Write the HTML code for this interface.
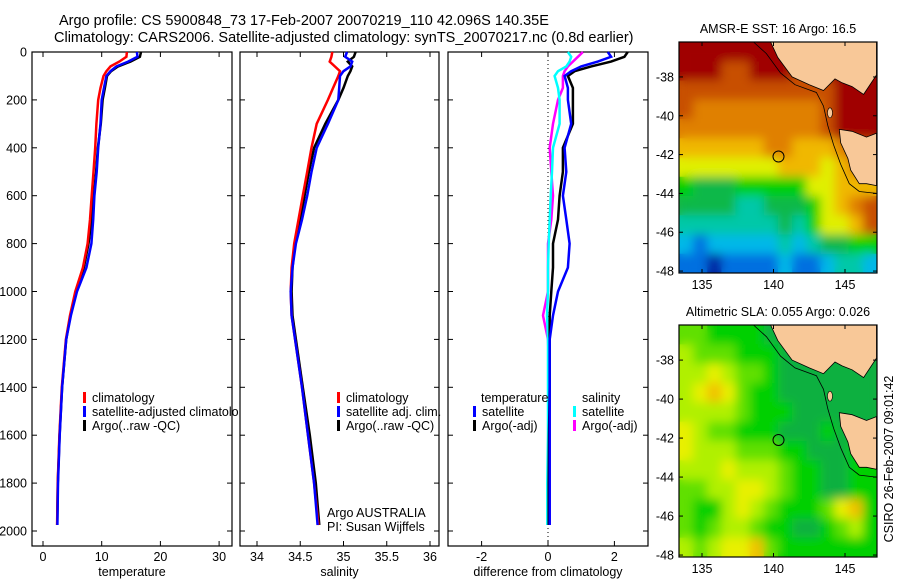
<!DOCTYPE html>
<html><head><meta charset="utf-8"><title>Argo profile</title>
<style>
html,body{margin:0;padding:0;background:#fff;}
svg{display:block;font-family:"Liberation Sans",sans-serif;}
</style></head>
<body>
<svg id="fig" xmlns="http://www.w3.org/2000/svg" width="900" height="580" viewBox="0 0 900 580">
<defs>
<filter id="blur" x="-5%" y="-5%" width="110%" height="110%"><feGaussianBlur stdDeviation="5"/></filter>
<clipPath id="clip-sst"><rect x="679" y="42" width="198" height="231"/></clipPath>
<clipPath id="clip-sla"><rect x="679" y="325" width="198" height="232"/></clipPath>
<clipPath id="clip-leg"><rect x="0" y="380" width="239" height="60"/></clipPath>
</defs>
<rect x="0" y="0" width="900" height="580" fill="#fff"/>
<text x="59" y="25" font-size="14.5" fill="#000">Argo profile: CS 5900848_73 17-Feb-2007 20070219_110 42.096S 140.35E</text>
<text x="54" y="42" font-size="14.5" fill="#000">Climatology: CARS2006. Satellite-adjusted climatology: synTS_20070217.nc (0.8d earlier)</text>
<g id="plots"></g>
</svg>
<script>
// ---------- data ----------
const depths = [0,20,40,60,80,100,150,200,300,400,500,600,700,800,900,1000,1100,1200,1400,1600,1800,1975];
const tempClim = [14.3,14.2,13.0,11.5,10.8,10.3,9.8,9.4,9.1,8.9,8.6,8.3,8.0,7.6,6.8,5.5,4.6,3.9,3.2,2.8,2.5,2.4];
const tempSat  = [16.0,16.1,14.5,12.5,11.5,10.8,10.4,10.0,9.8,9.4,9.15,8.75,8.55,8.25,7.4,5.8,4.75,3.95,3.25,2.85,2.55,2.45];
const tempArgo = [16.7,16.5,14.9,12.8,11.6,10.9,10.55,10.15,9.85,9.35,9.05,8.65,8.3,7.75,6.95,5.6,4.65,3.95,3.25,2.83,2.52,2.42];
const salClim = [34.87,34.86,34.84,34.90,34.96,34.94,34.88,34.82,34.69,34.63,34.58,34.53,34.48,34.43,34.40,34.39,34.40,34.44,34.52,34.59,34.66,34.71];
const salSat  = [35.04,35.02,35.10,35.08,35.0,34.96,34.95,34.94,34.82,34.69,34.63,34.58,34.52,34.45,34.41,34.39,34.40,34.44,34.52,34.59,34.66,34.70];
const salArgo = [35.14,35.12,35.05,35.10,35.08,35.05,35.0,34.94,34.79,34.66,34.60,34.55,34.50,34.44,34.41,34.40,34.41,34.45,34.53,34.61,34.68,34.72];
const tDiffSat  = [1.8,1.9,1.5,1.0,0.7,0.5,0.6,0.6,0.7,0.5,0.55,0.45,0.55,0.65,0.6,0.3,0.15,0.05,0.05,0.05,0.05,0.05];
const tDiffArgo = [2.4,2.3,1.9,1.3,0.8,0.6,0.75,0.75,0.75,0.45,0.45,0.35,0.3,0.15,0.15,0.1,0.05,0.05,0.05,0.03,0.02,0.02];
const sDiffSat  = [0.6,0.7,0.65,0.55,0.3,0.2,0.3,0.35,0.35,0.15,0.12,0.08,0.05,0.02,0.0,0.0,-0.03,0.0,0.0,0.0,-0.02,-0.02];
const sDiffArgo = [1.05,0.9,0.75,0.6,0.5,0.45,0.45,0.3,0.15,0.05,0.1,0.15,0.1,0.0,0.0,0.0,-0.15,0.0,0.05,0.05,0.05,0.05];
const depthTicks = [0,200,400,600,800,1000,1200,1400,1600,1800,2000];
const tempTicks = [0,10,20,30];
const salTicks = [34,34.5,35,35.5,36];
const diffTicks = [-2,0,2];
const latTicks = [-38,-40,-42,-44,-46,-48];
const lonTicks = [135,140,145];
const sstGrid = [
 "AAAAAAAAA9AAAA","AAA99AAA99AAAA","99999999999AAA","98888888889AAA","88888888889AAA","77777788777899",
 "66666667776788","54445555566777","44443344456789","33333334356679","21222223234455","11011112112332"];
const slaGrid = [
 "22111100000000","32221110000000","33432210000000","34542110000000","33332111000000","43221110001000",
 "43332221100010","33343332110011","22334432110011","21134321112451","21233211001231","32344521111111"];

// ---------- helpers ----------
const NS = "http://www.w3.org/2000/svg";
const root = document.getElementById('plots');
function mk(tag, attrs, parent){
  const e = document.createElementNS(NS, tag);
  for (const k in attrs) e.setAttribute(k, attrs[k]);
  (parent||root).appendChild(e);
  return e;
}
const Y0 = 52, Y1 = 531, YB = 546;
const yScale = d => Y0 + (d/2000)*(Y1-Y0);

function panel(name, x0, x1, xs, ticks, label, tickFmt){
  const g = mk('g', {});
  
  
  const fr = mk('rect', {x:x0, y:Y0, width:x1-x0, height:YB-Y0, fill:'none', stroke:'#000', 'stroke-width':1.2}, g);
  
  
  depthTicks.forEach(d=>{
    const y = yScale(d);
    mk('line',{x1:x0,y1:y,x2:x0+5,y2:y,stroke:'#000'},g);
    mk('line',{x1:x1,y1:y,x2:x1-5,y2:y,stroke:'#000'},g);
  });
  ticks.forEach(t=>{
    const x = xs(t);
    mk('line',{x1:x,y1:YB,x2:x,y2:YB-5,stroke:'#000'},g);
    mk('line',{x1:x,y1:Y0,x2:x,y2:Y0+5,stroke:'#000'},g);
    const tl = mk('text',{x:x,y:561,'font-size':12.5,'text-anchor':'middle'},g);
    
    
    tl.textContent = tickFmt ? tickFmt(t) : String(t);
  });
  const at = mk('text',{x:(x0+x1)/2,y:576,'font-size':12.5,'text-anchor':'middle'},g);
  
  
  at.textContent = label;
  return g;
}
function series(g, name, xs, vals, color, w){
  const pts = vals.map((v,i)=> xs(v).toFixed(1)+','+yScale(depths[i]).toFixed(1)).join(' ');
  const pl = mk('polyline',{points:pts, fill:'none', stroke:color, 'stroke-width':w||2.5, 'stroke-linejoin':'miter'}, g);
  
  
}
function legendEntry(g, name, x, y, color, txt){
  mk('rect',{x:x, y:y-10, width:3, height:11, fill:color}, g);
  const t = mk('text',{x:x+9, y:y, 'font-size':12.5}, g);
  
  
  t.textContent = txt;
}

// y-axis labels
depthTicks.forEach(d=>{
  const t = mk('text',{x:27, y:yScale(d)+4.5, 'font-size':12.5, 'text-anchor':'end'});
  
  
  t.textContent = String(d);
});

// ---------- temperature ----------
const xT = v => 43 + v*5.87;
const gT = panel('temperature', 32, 232, xT, tempTicks, 'temperature');
series(gT, 'temperature-argo-line', xT, tempArgo, '#000');
series(gT, 'temperature-climatology-line', xT, tempClim, '#f00');
series(gT, 'temperature-satellite-line', xT, tempSat, '#00f');
const gTL = mk('g',{'clip-path':'url(#clip-leg)'},gT);


legendEntry(gTL, 'legend-climatology', 83, 402, '#f00', 'climatology');
legendEntry(gTL, 'legend-satellite-adjusted', 83, 416, '#00f', 'satellite-adjusted climatology');
legendEntry(gTL, 'legend-argo', 83, 430, '#000', 'Argo(..raw -QC)');

// ---------- salinity ----------
const xS = v => 257 + (v-34)*86.5;
const gS = panel('salinity', 240, 439, xS, salTicks, 'salinity');
series(gS, 'salinity-argo-line', xS, salArgo, '#000');
series(gS, 'salinity-climatology-line', xS, salClim, '#f00');
series(gS, 'salinity-satellite-line', xS, salSat, '#00f');
legendEntry(gS, 'legend-sal-climatology', 337, 402, '#f00', 'climatology');
legendEntry(gS, 'legend-sal-satellite', 337, 416, '#00f', 'satellite adj. clim.');
legendEntry(gS, 'legend-sal-argo', 337, 430, '#000', 'Argo(..raw -QC)');
const a1 = mk('text',{x:327,y:517,'font-size':12.5},gS);


a1.textContent='Argo AUSTRALIA';
const a2 = mk('text',{x:327,y:531,'font-size':12.5},gS);


a2.textContent='PI: Susan Wijffels';

// ---------- difference ----------
const xD = v => 548 + v*33.2;
const gD = panel('difference', 448, 648, xD, diffTicks, 'difference from climatology', t=>t===-2?'-2':String(t));
mk('line',{x1:xD(0),y1:Y0,x2:xD(0),y2:YB,stroke:'#000','stroke-dasharray':'1,3'},gD);
series(gD, 'salinity-diff-argo-line', xD, sDiffArgo, '#f0f');
series(gD, 'salinity-diff-satellite-line', xD, sDiffSat, '#0ff');
series(gD, 'temperature-diff-argo-line', xD, tDiffArgo, '#000');
series(gD, 'temperature-diff-satellite-line', xD, tDiffSat, '#00f');
const lt = mk('text',{x:481,y:402,'font-size':12.5},gD);


lt.textContent='temperature';
const ls = mk('text',{x:582,y:402,'font-size':12.5},gD);


ls.textContent='salinity';
legendEntry(gD, 'legend-diff-temp-satellite', 473, 416, '#00f', 'satellite');
legendEntry(gD, 'legend-diff-temp-argo', 473, 430, '#000', 'Argo(-adj)');
legendEntry(gD, 'legend-diff-sal-satellite', 573, 416, '#0ff', 'satellite');
legendEntry(gD, 'legend-diff-sal-argo', 573, 430, '#f0f', 'Argo(-adj)');

// ---------- maps ----------
const sstPal = ['#0020a0','#0070e0','#00b8e8','#00c8a8','#10b848','#00d000','#e0f000','#f0b800','#e08000','#c85000','#a00000'];
const slaPal = ['#10b040','#00d000','#60e000','#b0f000','#e8f000','#f0c000'];
const LON0=133.4, LON1=147.2, LAT0=-36.2, LAT1=-48.1;
function drawMap(name, top, bottom, grid, pal, title, clipId){
  const x0=679, x1=877;
  const lx = lon => 702 + (lon-135)*14.3;
  const ly = lat => top + (LAT0-lat)/(LAT0-LAT1)*(bottom-top);
  const g = mk('g',{});
  
  
  const cw=(x1-x0)/14, ch=(bottom-top)/12;
  const cg = mk('g',{'clip-path':'url(#'+clipId+')'},g);
  const base = mk('g',{},cg);
  const soft = mk('g',{filter:'url(#blur)'},cg);
  [base,soft].forEach(layer=>{
    grid.forEach((row,r)=>{
      for(let c=0;c<14;c++){
        const v = parseInt(row[c],16);
        mk('rect',{x:x0+c*cw,y:top+r*ch,width:cw+0.5,height:ch+0.5,fill:pal[v]},layer);
      }
    });
  });
  const P = arr => arr.map(p=>lx(p[0]).toFixed(1)+','+ly(p[1]).toFixed(1)).join(' ');
  const main = mk('polygon',{points:P([[139.8,-36.2],[140.3,-37.0],[141.3,-38.0],[142.5,-38.4],[143.5,-38.7],[144.3,-38.1],[144.8,-38.3],[145.5,-38.5],[146.3,-38.9],[147.2,-37.9],[147.2,-36.2]]),fill:'#f8c898',stroke:'#000','stroke-width':0.8},g);
  
  
  const tas = mk('polygon',{points:P([[144.6,-40.7],[145.5,-40.8],[146.5,-41.1],[147.2,-40.9],[147.2,-43.6],[146.5,-43.5],[146,-43.5],[145.4,-42.8],[145.2,-42.2],[144.7,-41.4]]),fill:'#f8c898',stroke:'#000','stroke-width':0.8},g);
  
  
  mk('ellipse',{cx:lx(143.95),cy:ly(-39.85),rx:2.5,ry:5,fill:'#f8c898',stroke:'#000','stroke-width':0.6},g);
  mk('polyline',{points:P([[138.6,-36.2],[139.5,-36.8],[140.5,-37.8],[141.5,-38.4],[143,-38.8],[143.5,-39.5],[143.8,-40.5],[144.2,-41.5],[144.7,-42.5],[145.3,-43.5],[146,-43.9],[147.2,-44.0]]),fill:'none',stroke:'#000','stroke-width':0.8},g);
  const ci = mk('circle',{cx:lx(140.35),cy:ly(-42.1),r:5.5,fill:'none',stroke:'#000','stroke-width':1},g);
  
  
  mk('rect',{x:x0,y:top,width:x1-x0,height:bottom-top,fill:'none',stroke:'#000','stroke-width':1.2},g);
  latTicks.forEach(l=>{
    const y=ly(l);
    mk('line',{x1:x0,y1:y,x2:x0+4,y2:y,stroke:'#000'},g);
    mk('line',{x1:x1,y1:y,x2:x1-4,y2:y,stroke:'#000'},g);
    const t = mk('text',{x:674,y:y+4.5,'font-size':12.5,'text-anchor':'end'},g);
    
    
    t.textContent = String(l);
  });
  lonTicks.forEach(l=>{
    const x=lx(l);
    mk('line',{x1:x,y1:top,x2:x,y2:top+4,stroke:'#000'},g);
    mk('line',{x1:x,y1:bottom,x2:x,y2:bottom-4,stroke:'#000'},g);
    const t = mk('text',{x:x,y:bottom+16,'font-size':12.5,'text-anchor':'middle'},g);
    
    
    t.textContent = String(l);
  });
  const tt = mk('text',{x:(x0+x1)/2,y:top-9,'font-size':12.5,'text-anchor':'middle'},g);
  
  
  tt.textContent = title;
}
drawMap('sst-map', 42, 273, sstGrid, sstPal, 'AMSR-E SST: 16 Argo: 16.5', 'clip-sst');
drawMap('sla-map', 325, 557, slaGrid, slaPal, 'Altimetric SLA: 0.055 Argo: 0.026', 'clip-sla');
const cs = mk('text',{x:0,y:0,'font-size':12.5,'text-anchor':'middle',transform:'translate(893,459) rotate(-90)'});


cs.textContent='CSIRO 26-Feb-2007 09:01:42';
</script>
</body></html>
